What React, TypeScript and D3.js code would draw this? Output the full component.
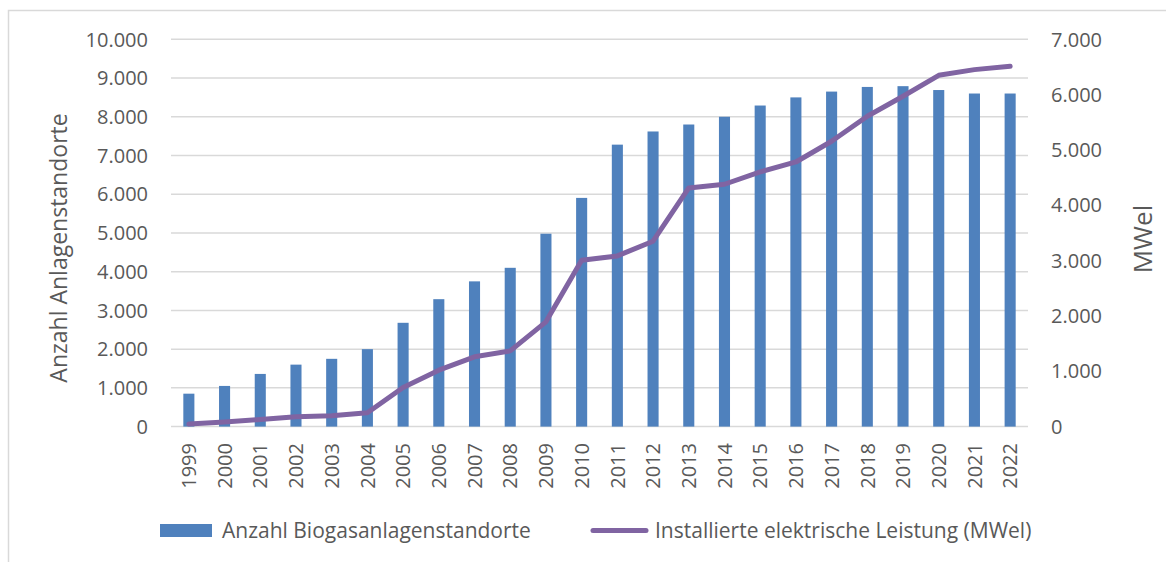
import * as d3 from "d3";

const years = ["1999","2000","2001","2002","2003","2004","2005","2006","2007","2008","2009","2010","2011","2012","2013","2014","2015","2016","2017","2018","2019","2020","2021","2022"];
const anlagen = [850,1050,1360,1600,1750,2000,2680,3290,3750,4100,4980,5905,7280,7620,7800,8000,8290,8500,8650,8770,8790,8690,8600,8600];
const leistung = [45,81,130,177,195,250,708,1020,1261,1369,1893,3008,3085,3351,4314,4380,4603,4783,5157,5609,5970,6349,6452,6512];
const leftTicks = [0,1000,2000,3000,4000,5000,6000,7000,8000,9000,10000];
const rightTicks = [0,1000,2000,3000,4000,5000,6000,7000];

const barColor = "#4f81bd";
const lineColor = "#8064a2";
const textColor = "#595959";
const gridColor = "#d9d9d9";
const font = "'Open Sans', sans-serif";

const fmt = (v: number) => d3.format(",")(v).replace(/,/g, ".");

export default function App() {
  const width = 1166;
  const height = 562;
  const plot = { left: 171, right: 1028, top: 39.3, bottom: 426.6 };

  const x = d3.scaleBand<string>().domain(years).range([plot.left, plot.right]).padding(0);
  const yL = d3.scaleLinear().domain([0, 10000]).range([plot.bottom, plot.top]);
  const yR = d3.scaleLinear().domain([0, 7000]).range([plot.bottom, plot.top]);
  const barW = x.bandwidth() * 0.31;

  const line = d3.line<number>()
    .x((_, i) => x(years[i])! + x.bandwidth() / 2)
    .y(d => yR(d));

  return (
    <svg width={width} height={height} style={{ position: "absolute", left: 0, top: 0 }} fontFamily={font}>
      <rect x={0} y={0} width={width} height={height} fill="#fff" />
      <rect x={8.5} y={10.5} width={width + 10} height={height} fill="none" stroke={gridColor} strokeWidth={1.5} />

      {leftTicks.map(t => (
        <g key={"l" + t}>
          <line x1={plot.left} x2={plot.right} y1={yL(t)} y2={yL(t)} stroke={gridColor} strokeWidth={1.5} />
          <text x={148} y={yL(t)} dy="0.36em" textAnchor="end" fontSize={20} fill={textColor}>{fmt(t)}</text>
        </g>
      ))}
      {rightTicks.map(t => (
        <text key={"r" + t} x={1051} y={yR(t)} dy="0.36em" textAnchor="start" fontSize={20} fill={textColor}>{fmt(t)}</text>
      ))}

      {anlagen.map((v, i) => (
        <rect key={years[i]} x={x(years[i])! + (x.bandwidth() - barW) / 2} y={yL(v)} width={barW} height={plot.bottom - yL(v)} fill={barColor} />
      ))}

      <path d={line(leistung)!} fill="none" stroke={lineColor} strokeWidth={5} strokeLinejoin="round" strokeLinecap="round" />

      {years.map(yr => (
        <text key={"x" + yr} transform={`translate(${x(yr)! + x.bandwidth() / 2},443) rotate(-90)`} dy="0.36em" textAnchor="end" fontSize={20} fill={textColor}>{yr}</text>
      ))}

      <text transform="translate(59,248) rotate(-90)" dy="0.36em" textAnchor="middle" fontSize={23} fill={textColor}>Anzahl Anlagenstandorte</text>
      <text transform="translate(1143,239) rotate(-90)" dy="0.36em" textAnchor="middle" fontSize={26} fill={textColor}>MWel</text>

      <rect x={160} y={524} width={52} height={13} fill={barColor} />
      <text x={222} y={530.5} dy="0.36em" fontSize={21} fill={textColor}>Anzahl Biogasanlagenstandorte</text>
      <line x1={593} x2={646} y1={530.5} y2={530.5} stroke={lineColor} strokeWidth={5} strokeLinecap="round" />
      <text x={655} y={530.5} dy="0.36em" fontSize={21} fill={textColor}>Installierte elektrische Leistung (MWel)</text>
    </svg>
  );
}
